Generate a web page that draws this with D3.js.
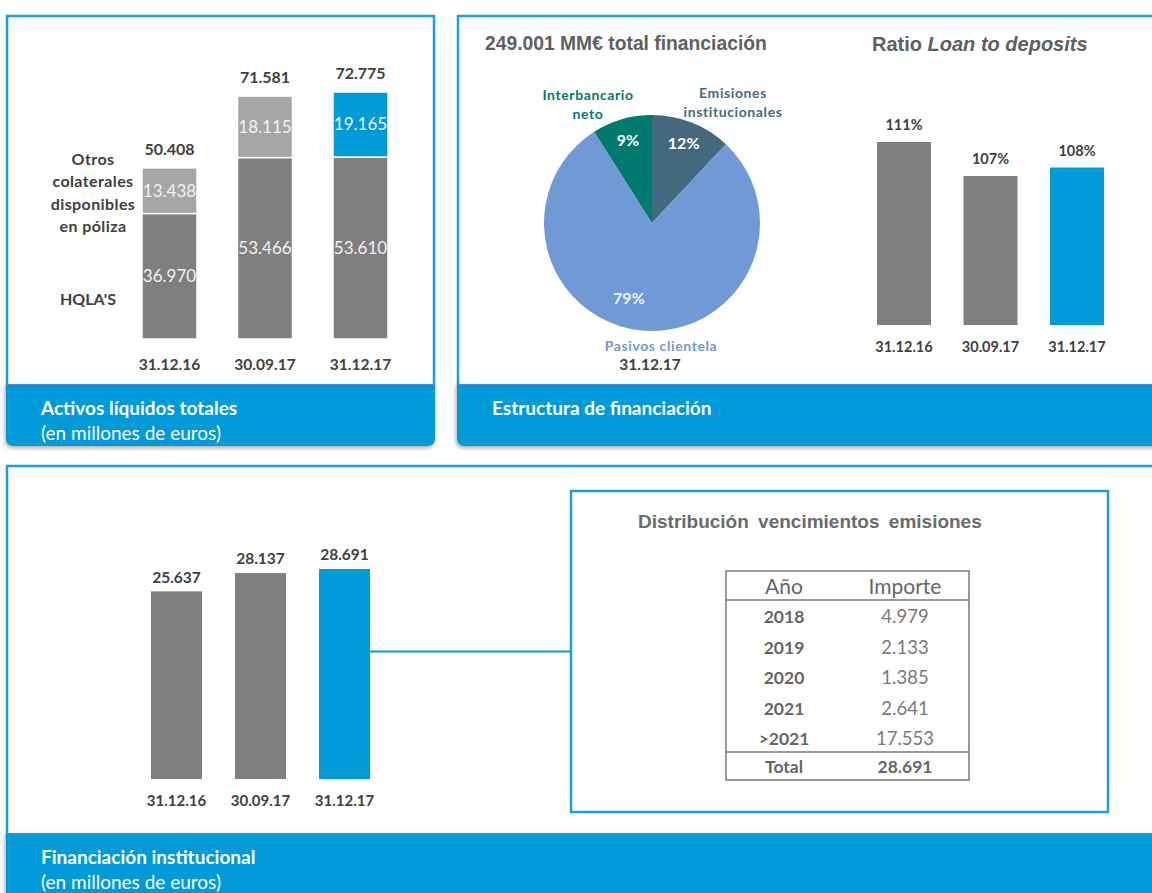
<!DOCTYPE html>
<html>
<head>
<meta charset="utf-8">
<script src="https://d3js.org/d3.v7.min.js"></script>
<style>
  body { margin: 0; background: #fff; }
  text { font-family: Lato, "Open Sans", sans-serif; }
  .arial { font-family: "Liberation Sans", Arial, sans-serif; }
</style>
</head>
<body>
<div id="chart"></div>
<script>
// ---- data ----
const dates = ["31.12.16", "30.09.17", "31.12.17"];
const hqla = [36970, 53466, 53610];
const otrosColaterales = [13438, 18115, 19165];
const activosTotales = [50408, 71581, 72775];

const pieLabels = ["Emisiones institucionales", "Pasivos clientela", "Interbancario neto"];
const pieShares = [12, 79, 9];
const totalFinanciacion = "249.001";

const ltdRatio = [111, 107, 108];

const financiacionInst = [25637, 28137, 28691];

const vencYears = ["2018", "2019", "2020", "2021", ">2021"];
const vencAmounts = [4979, 2133, 1385, 2641, 17553];
const vencTotal = 28691;

// ---- colours ----
const blue = "#009ad8", darkGray = "#7f7f7f", lightGray = "#a6a6a6", textDark = "#404040";
const pieColors = ["#44697e", "#7099d6", "#007a6f"];

const es = d3.formatLocale({ decimal: ",", thousands: ".", grouping: [3], currency: ["", "€"] });
const fmt = es.format(",");

const svg = d3.select("#chart").append("svg")
  .attr("width", 1152).attr("height", 893);

const defs = svg.append("defs");
const shadow = defs.append("filter").attr("id", "shadow")
  .attr("x", "-5%").attr("y", "-20%").attr("width", "110%").attr("height", "150%");
shadow.append("feDropShadow").attr("dx", -1).attr("dy", 2).attr("stdDeviation", 2)
  .attr("flood-color", "#000").attr("flood-opacity", 0.35);
const blur = defs.append("filter").attr("id", "blur").attr("y", "-200%").attr("height", "500%");
blur.append("feGaussianBlur").attr("stdDeviation", 2.5);

// panel frames + blue footers
function panel(x0, y0, x1, yFoot, yEnd, title, sub) {
  svg.append("rect").attr("x", x0).attr("y", y0).attr("width", x1 - x0).attr("height", yFoot - y0 + 4)
    .attr("fill", "none").attr("stroke", "#19a0dc").attr("stroke-width", 2.5);
  const r = 8;
  const p = d3.path();
  p.moveTo(x0 - 1, yFoot);
  p.lineTo(x1 + 1, yFoot);
  p.lineTo(x1 + 1, yEnd - r);
  p.quadraticCurveTo(x1 + 1, yEnd, x1 + 1 - r, yEnd);
  p.lineTo(x0 - 1 + r, yEnd);
  p.quadraticCurveTo(x0 - 1, yEnd, x0 - 1, yEnd - r);
  p.closePath();
  svg.append("path").attr("d", p.toString()).attr("fill", blue).attr("filter", "url(#shadow)");
  svg.append("line").attr("x1", x0 - 1).attr("x2", x1 + 1).attr("y1", yFoot + 0.5).attr("y2", yFoot + 0.5)
    .attr("stroke", "#5a86c4").attr("stroke-width", 1);
  svg.append("text").attr("x", x0 + 34).attr("y", yFoot + 31).attr("fill", "#fff")
    .attr("font-size", 19).attr("font-weight", "bold").text(title);
  if (sub) svg.append("text").attr("x", x0 + 34).attr("y", yFoot + 56).attr("fill", "#fff")
    .attr("font-size", 19).text(sub);
}
panel(7, 16, 434, 384, 446, "Activos líquidos totales", "(en millones de euros)");
panel(458, 16, 1162, 384, 446, "Estructura de financiación", null);
panel(7, 466, 1162, 833, 905, "Financiación institucional", "(en millones de euros)");

// ---- panel 1: stacked bars ----
const x1 = d3.scaleBand().domain(dates).range([142, 388]).paddingInner(0.424);
const y1 = d3.scaleLinear().domain([0, 72775]).range([339, 92]);
const stackData = dates.map((d, i) => ({ date: d, hqla: hqla[i], otros: otrosColaterales[i], total: activosTotales[i] }));
const stacked = d3.stack().keys(["hqla", "otros"])(stackData);
const g1 = svg.append("g");
stacked.forEach((layer, li) => {
  g1.selectAll(null).data(layer).join("rect")
    .attr("x", d => x1(d.data.date))
    .attr("y", d => y1(d[1]))
    .attr("width", x1.bandwidth())
    .attr("height", d => y1(d[0]) - y1(d[1]))
    .attr("fill", (d, i) => li === 0 ? darkGray : (i === 2 ? blue : lightGray))
    .attr("stroke", "#fff").attr("stroke-width", 1.5);
  g1.selectAll(null).data(layer).join("text")
    .attr("x", d => x1(d.data.date) + x1.bandwidth() / 2)
    .attr("y", d => (y1(d[0]) + y1(d[1])) / 2)
    .attr("dy", "0.35em").attr("text-anchor", "middle")
    .attr("fill", "#f2f2f2").attr("font-size", 17)
    .text(d => fmt(d[1] - d[0]));
});
g1.selectAll(null).data(stackData).join("text")
  .attr("x", d => x1(d.date) + x1.bandwidth() / 2)
  .attr("y", d => y1(d.total) - 19).attr("dy", "0.35em")
  .attr("text-anchor", "middle").attr("fill", textDark)
  .attr("font-size", 16).attr("font-weight", "bold").text(d => fmt(d.total));
g1.selectAll(null).data(dates).join("text")
  .attr("x", d => x1(d) + x1.bandwidth() / 2).attr("y", 365).attr("dy", "0.35em")
  .attr("text-anchor", "middle").attr("fill", textDark)
  .attr("font-size", 15.5).attr("font-weight", "bold").text(d => d);
const leftLab = g1.append("text").attr("text-anchor", "middle").attr("fill", textDark)
  .attr("font-size", 16).attr("font-weight", "bold").attr("letter-spacing", 0.4);
["Otros", "colaterales", "disponibles", "en póliza"].forEach((t, i) =>
  leftLab.append("tspan").attr("x", 93).attr("y", 165 + i * 22.3).text(t));
g1.append("text").attr("x", 88).attr("y", 305).attr("text-anchor", "middle").attr("fill", textDark)
  .attr("font-size", 16).attr("font-weight", "bold").text("HQLA'S");

// ---- panel 2: pie ----
svg.append("text").attr("class", "arial").attr("x", 485).attr("y", 50)
  .attr("fill", "#5f5f5f").attr("font-size", 19.3).attr("font-weight", "bold")
  .text(totalFinanciacion + " MM€ total financiación");
const cx = 652, cy = 223, R = 108;
const pie = d3.pie().sort(null).value(d => d)(pieShares);
const arc = d3.arc().innerRadius(0).outerRadius(R);
const labelArc = d3.arc().innerRadius(86).outerRadius(86);
const gp = svg.append("g").attr("transform", `translate(${cx},${cy})`);
gp.selectAll("path").data(pie).join("path")
  .attr("d", arc).attr("fill", (d, i) => pieColors[i]);
gp.selectAll("text.pct").data(pie).join("text").attr("class", "pct")
  .attr("transform", (d, i) => {
    const c = labelArc.centroid(d);
    return i === 1 ? `translate(${c[0] - 15},${c[1] - 10})` : `translate(${c[0]},${c[1]})`;
  })
  .attr("dy", "0.35em").attr("text-anchor", "middle")
  .attr("fill", (d, i) => i === 1 ? "#eef2fa" : "#fff")
  .attr("font-size", 16).attr("font-weight", "bold")
  .text(d => d.data + "%");
// outside labels
const outLab = [
  { lines: ["Emisiones", "institucionales"], x: 733, y: 93, c: pieColors[0] },
  { lines: ["Pasivos clientela"], x: 661, y: 346, c: pieColors[1] },
  { lines: ["Interbancario", "neto"], x: 588, y: 95, c: pieColors[2] }
];
outLab.forEach((o, i) => {
  const t = svg.append("text").attr("text-anchor", "middle").attr("fill", o.c)
    .attr("font-size", 14).attr("font-weight", "bold").attr("letter-spacing", 0.6);
  o.lines.forEach((l, j) => t.append("tspan").attr("x", o.x).attr("y", o.y + 5 + j * 19).text(l));
});
svg.append("text").attr("x", 650).attr("y", 365).attr("dy", "0.35em").attr("text-anchor", "middle")
  .attr("fill", textDark).attr("font-size", 15.5).attr("font-weight", "bold").text(dates[2]);

// ---- panel 2: ratio loan to deposits ----
const rt = svg.append("text").attr("class", "arial").attr("x", 872).attr("y", 51)
  .attr("fill", "#5f5f5f").attr("font-size", 20).attr("font-weight", "bold");
rt.append("tspan").text("Ratio ");
rt.append("tspan").attr("font-style", "italic").text("Loan to deposits");
const x2 = d3.scaleBand().domain(dates).range([877, 1104]).paddingInner(0.376);
const y2 = d3.scaleLinear().domain([89.5, 111]).range([325, 142]);
const g2 = svg.append("g");
g2.selectAll("rect").data(ltdRatio).join("rect")
  .attr("x", (d, i) => x2(dates[i])).attr("y", d => y2(d))
  .attr("width", x2.bandwidth()).attr("height", d => y2.range()[0] - y2(d))
  .attr("fill", (d, i) => i === 2 ? blue : darkGray);
g2.selectAll("text.v").data(ltdRatio).join("text").attr("class", "v")
  .attr("x", (d, i) => x2(dates[i]) + x2.bandwidth() / 2).attr("y", d => y2(d) - 17).attr("dy", "0.35em")
  .attr("text-anchor", "middle").attr("fill", textDark).attr("font-size", 14.5).attr("font-weight", "bold")
  .text(d => d + "%");
g2.selectAll("text.c").data(dates).join("text").attr("class", "c")
  .attr("x", d => x2(d) + x2.bandwidth() / 2).attr("y", 347).attr("dy", "0.35em")
  .attr("text-anchor", "middle").attr("fill", textDark).attr("font-size", 14.5).attr("font-weight", "bold")
  .text(d => d);

// ---- panel 3: institutional funding ----
const x3 = d3.scaleBand().domain(dates).range([151, 370]).paddingInner(0.393);
const y3 = d3.scaleLinear().domain([0, 28691]).range([779, 569]);
const g3 = svg.append("g");

// connector line with soft shadow
const boxX = 571, boxY = 491, boxW = 537, boxH = 321;
g3.append("line").attr("x1", x3.range()[1]).attr("x2", boxX).attr("y1", 657).attr("y2", 657)
  .attr("stroke", "#999").attr("stroke-width", 5).attr("filter", "url(#blur)");
g3.append("line").attr("x1", x3.range()[1]).attr("x2", boxX).attr("y1", 651.5).attr("y2", 651.5)
  .attr("stroke", blue).attr("stroke-width", 2);

g3.selectAll("rect").data(financiacionInst).join("rect")
  .attr("x", (d, i) => x3(dates[i])).attr("y", d => y3(d))
  .attr("width", x3.bandwidth()).attr("height", d => y3(0) - y3(d))
  .attr("fill", (d, i) => i === 2 ? blue : darkGray);
g3.selectAll("text.v").data(financiacionInst).join("text").attr("class", "v")
  .attr("x", (d, i) => x3(dates[i]) + x3.bandwidth() / 2).attr("y", d => y3(d) - 14).attr("dy", "0.35em")
  .attr("text-anchor", "middle").attr("fill", textDark).attr("font-size", 15.5).attr("font-weight", "bold")
  .text(d => fmt(d));
g3.selectAll("text.c").data(dates).join("text").attr("class", "c")
  .attr("x", d => x3(d) + x3.bandwidth() / 2).attr("y", 801).attr("dy", "0.35em")
  .attr("text-anchor", "middle").attr("fill", textDark).attr("font-size", 15).attr("font-weight", "bold")
  .text(d => d);

// maturity box
svg.append("rect").attr("x", boxX).attr("y", boxY).attr("width", boxW).attr("height", boxH)
  .attr("fill", "#fff").attr("stroke", "#19a0dc").attr("stroke-width", 2.5);
svg.append("text").attr("class", "arial").attr("x", 638).attr("y", 528)
  .attr("fill", "#6b6b6b").attr("font-size", 19).attr("font-weight", "bold").attr("word-spacing", 4)
  .text("Distribución vencimientos emisiones");

const tX = 726, tY = 571, tW = 243, tH = 209;
const colX = { year: 784, amt: 905 };
const rowY = d3.scalePoint().domain(vencYears).range([617, 739]);
const gt = svg.append("g");
gt.append("rect").attr("x", tX).attr("y", tY).attr("width", tW).attr("height", tH)
  .attr("fill", "none").attr("stroke", "#7a7a7a").attr("stroke-width", 1.5);
[600, 752].forEach(yy => gt.append("line").attr("x1", tX).attr("x2", tX + tW)
  .attr("y1", yy).attr("y2", yy).attr("stroke", "#7a7a7a").attr("stroke-width", 1.5));
gt.append("text").attr("x", colX.year).attr("y", 587).attr("dy", "0.35em").attr("text-anchor", "middle")
  .attr("fill", "#666").attr("font-size", 21).text("Año");
gt.append("text").attr("x", colX.amt).attr("y", 587).attr("dy", "0.35em").attr("text-anchor", "middle")
  .attr("fill", "#666").attr("font-size", 21).text("Importe");
gt.selectAll("text.y").data(vencYears).join("text").attr("class", "y")
  .attr("x", colX.year).attr("y", d => rowY(d)).attr("dy", "0.35em").attr("text-anchor", "middle")
  .attr("fill", "#666").attr("font-size", 17.5).attr("font-weight", "bold").text(d => d);
gt.selectAll("text.a").data(vencAmounts).join("text").attr("class", "a")
  .attr("x", colX.amt).attr("y", (d, i) => rowY(vencYears[i])).attr("dy", "0.35em").attr("text-anchor", "middle")
  .attr("fill", "#7a7a7a").attr("font-size", 18.5).text(d => fmt(d));
gt.append("text").attr("x", colX.year).attr("y", 767).attr("dy", "0.35em").attr("text-anchor", "middle")
  .attr("fill", "#666").attr("font-size", 17.5).attr("font-weight", "bold").text("Total");
gt.append("text").attr("x", colX.amt).attr("y", 767).attr("dy", "0.35em").attr("text-anchor", "middle")
  .attr("fill", "#666").attr("font-size", 17.5).attr("font-weight", "bold").text(fmt(vencTotal));
</script>
</body>
</html>
